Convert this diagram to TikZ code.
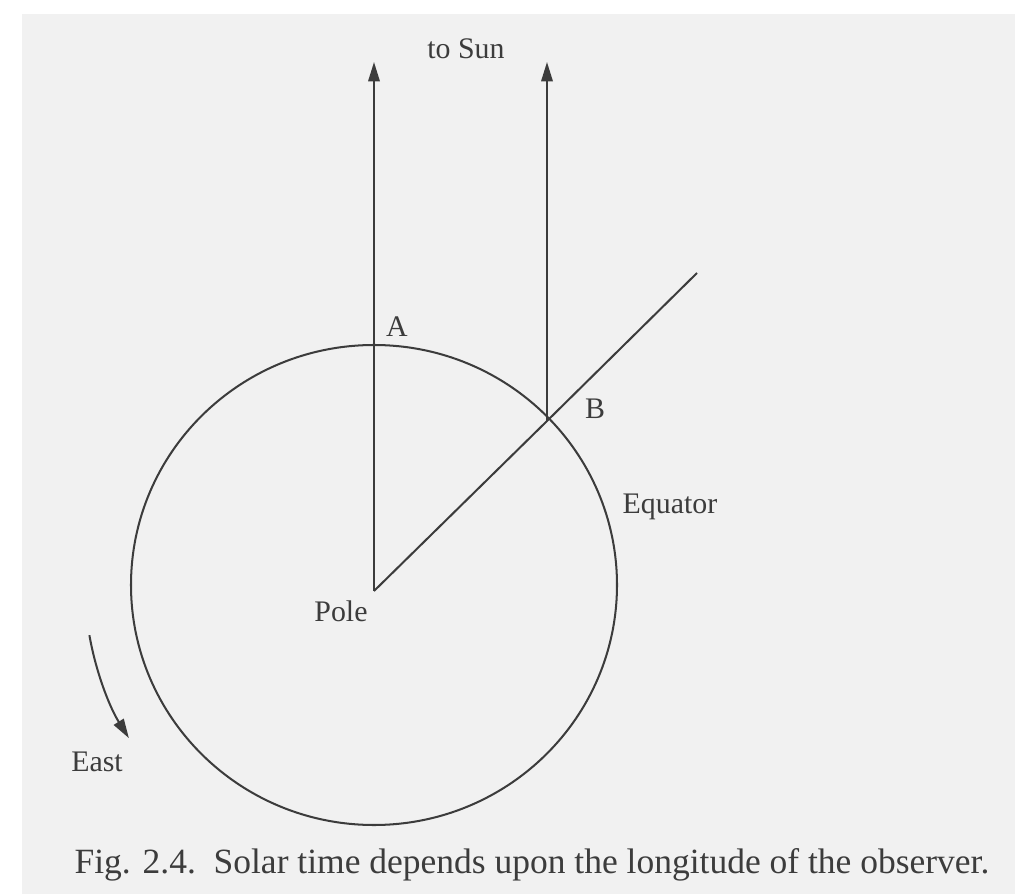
\documentclass[tikz,border=0pt]{standalone}
\usepackage{fontspec}
\setmainfont{Liberation Serif}
\usepackage{xcolor}
\usetikzlibrary{arrows.meta}

\definecolor{ink}{RGB}{60,60,60}
\definecolor{paper}{RGB}{241,241,241}

\begin{document}
\begin{tikzpicture}[x=0.02cm, y=0.02cm, line width=1.15pt, draw=ink,
    >={Triangle[length=11pt, width=6.5pt]},
    lbl/.style={text=ink, font=\fontsize{17}{20}\selectfont, inner sep=0pt}]
    % page
    \fill[white] (0,0) rectangle (1015,894);
    \fill[paper] (22,0) rectangle (1015,880);
    \useasboundingbox (0,0) rectangle (1015,894);

    \coordinate (ctr) at (374,309);
    \coordinate (pole) at (374,303);
    \coordinate (B) at (547,473);
    \coordinate (eqend) at (697,621);
    \coordinate (sunA) at (374,832);
    \coordinate (sunB) at (547,832);

    \draw (ctr) ellipse [x radius=243, y radius=240];
    \foreach \p/\q in {pole/sunA, B/sunB} \draw[->] (\p) -- (\q);
    \draw (pole) -- (B) -- (eqend);

    % rotation
    \draw[->] ([shift={(190:289)}]ctr) arc (190:212:289) coordinate (eastend);

    \node[lbl] (tosun) at (466,845) {to Sun};
    \node[lbl] (labA) at (397,567) {A};
    \node[lbl] (labB) at (595,485) {B};
    \node[lbl] (equator) at (670,387) {Equator};
    \node[lbl] (polelbl) at (341,283) {Pole};
    \node[lbl] (east) at (97,132) {East};
    \node[lbl, font=\fontsize{20.2}{24}\selectfont] (caption) at (532,29)
        {Fig. 2.4.\ \ Solar time depends upon the longitude of the observer.};
\end{tikzpicture}
\end{document}
